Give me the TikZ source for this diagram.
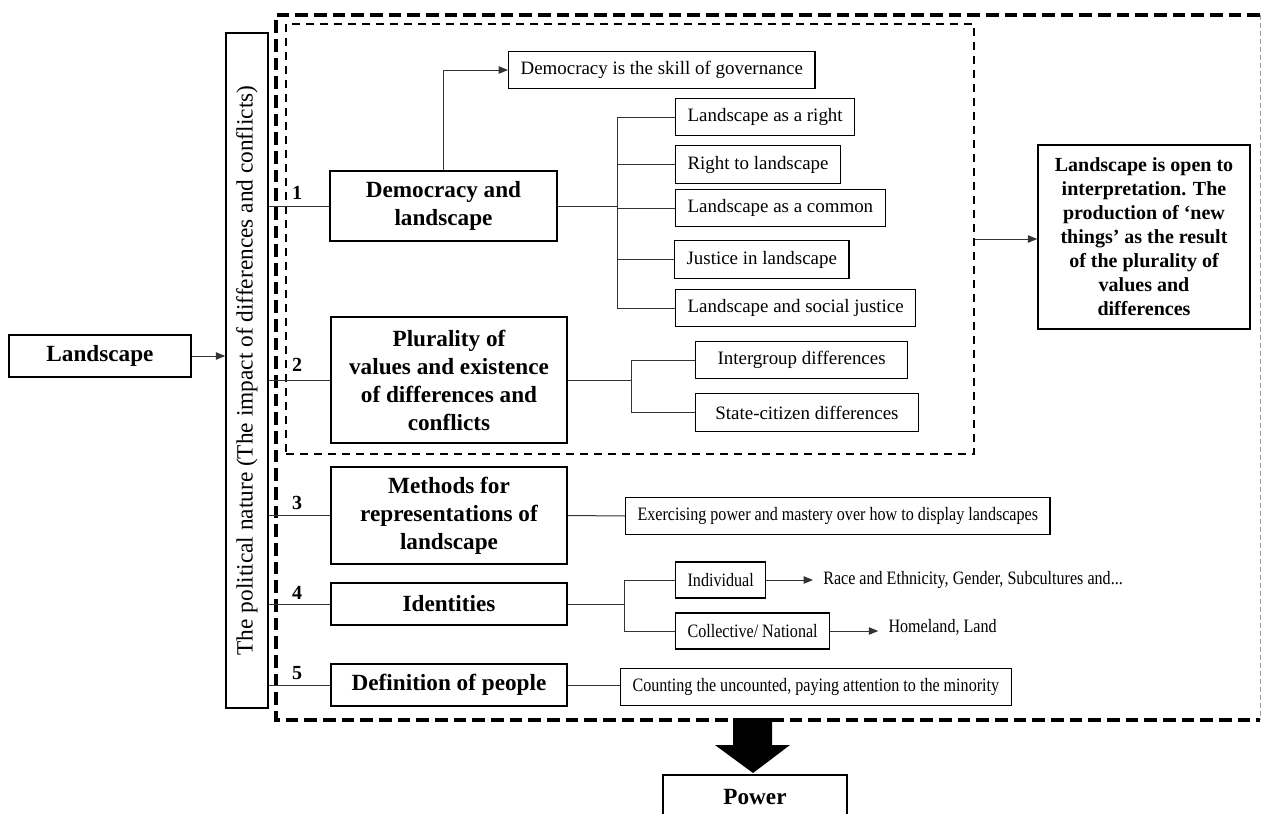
\documentclass[tikz,border=0pt]{standalone}
\usepackage{fontspec}
\setmainfont{Liberation Serif}
\newfontfamily\narrowserif[FakeStretch=0.85]{Liberation Serif}
\usetikzlibrary{arrows.meta,positioning}

\begin{document}
\begin{tikzpicture}[x=0.75pt,y=-0.75pt,
    main/.style={draw,line width=1.6pt,align=center,inner sep=2pt,font=\fontsize{17.4}{21}\selectfont\bfseries},
    leaf/.style={draw,line width=0.9pt,anchor=west,inner xsep=9pt,minimum height=28pt,font=\fontsize{14.2}{17}\selectfont},
    sleaf/.style={leaf,font=\narrowserif\fontsize{14.2}{17}\selectfont},
    plain/.style={inner xsep=7.5pt,font=\narrowserif\fontsize{14.2}{17}\selectfont},
    num/.style={font=\fontsize{15}{18}\selectfont\bfseries},
    link/.style={line width=0.75pt,draw=black!80},
    arr/.style={link,-{Triangle[length=7pt,width=5.5pt]}},
    bigdash/.style={line width=3pt,dash pattern=on 9.5pt off 4.5pt},
    smalldash/.style={line width=1.4pt,dash pattern=on 6pt off 4.5pt}]
    \useasboundingbox (0,0) rectangle (1261,814);
    \node[inner sep=0pt,outer sep=0pt,minimum width=738pt,minimum height=528.75pt] (nat) at (768,367.5) {};
    \node[draw,smalldash,inner sep=0pt,minimum width=516pt,minimum height=322.5pt] (grp) at (630,239) {};
    \node[main,minimum width=137pt,minimum height=31pt] (land) at (100,356) {Landscape};
    \node[draw,line width=1.1pt,inner sep=0pt,minimum width=31.5pt,minimum height=506pt,font=\fontsize{17.5}{20}\selectfont] (pol) at (247,370.5) {\rotatebox{90}{The political nature (The impact of differences and conflicts)}};
    \node[main,minimum width=170pt,minimum height=52pt] (b1) at (443.5,206) {Democracy and\\landscape};
    \node[main,minimum width=177pt,minimum height=94.5pt] (b2) at (449,380) {Plurality of\\values and existence\\of differences and\\conflicts};
    \node[main,minimum width=177pt,minimum height=73pt] (b3) at (449,515.5) {Methods for\\representations of\\landscape};
    \node[main,minimum width=177pt,minimum height=31.5pt] (b4) at (449,604) {Identities};
    \node[main,minimum width=177pt,minimum height=31.5pt] (b5) at (449,685) {Definition of people};
    \node[num] (n1) at (297,193) {1};
    \node[num] (n2) at (297,365) {2};
    \node[num] (n3) at (297,503) {3};
    \node[num] (n4) at (297,593) {4};
    \node[num] (n5) at (297,673) {5};
    \node[leaf] (gov) at (508,70) {Democracy is the skill of governance};
    \node[leaf] (r1) at (675,117) {Landscape as a right};
    \node[leaf] (r2) at (675,164.5) {Right to landscape};
    \node[leaf] (r3) at (675,208) {Landscape as a common};
    \node[leaf] (r4) at (674,259.5) {Justice in landscape};
    \node[leaf] (r5) at (675,308) {Landscape and social justice};
    \node[leaf,minimum width=159pt] (i1) at (695,360) {Intergroup differences};
    \node[leaf,minimum width=167pt] (i2) at (695,412.5) {State-citizen differences};
    \node[sleaf] (ex) at (625,516) {Exercising power and mastery over how to display landscapes};
    \node[sleaf,minimum height=27pt] (ind) at (675,580) {Individual};
    \node[sleaf,minimum height=27pt] (coll) at (675,631) {Collective/ National};
    \node[sleaf] (cnt) at (620,687) {Counting the uncounted, paying attention to the minority};
    \node[plain,anchor=west,right=35pt of ind] (race) {Race and Ethnicity, Gender, Subcultures and...};
    \node[plain,anchor=west,right=36pt of coll,yshift=3pt] (home) {Homeland, Land};
    \node[draw,line width=1.1pt,align=center,minimum width=159pt,minimum height=138pt,font=\fontsize{15}{18}\selectfont\bfseries] (res) at (1144,237) {Landscape is open to\\interpretation. The\\production of ‘new\\things’ as the result\\of the plurality of\\values and\\differences};
    \node[main,minimum width=138pt,minimum height=34pt] (pwr) at (755,797.5) {Power};
    \coordinate (t1) at (617,206);
    \coordinate (t2) at (631,380);
    \coordinate (t4) at (624,604);
    \draw[bigdash] (nat.north east) -- (nat.north west) -- (nat.south west) -- (nat.south east);
    \draw[black!40,line width=0.6pt,dash pattern=on 4pt off 2pt] (nat.north east) -- (nat.south east);
    \draw[arr] (land.east) -- (land.east -| pol.west);
    \draw[link] (pol.east |- b1.west) -- (b1.west);
    \draw[link] (pol.east |- b2.west) -- (b2.west);
    \draw[link] (pol.east |- b3.west) -- (b3.west);
    \draw[link] (pol.east |- b4.west) -- (b4.west);
    \draw[link] (pol.east |- b5.west) -- (b5.west);
    \draw[arr] (b1.north) |- (gov.west);
    \draw[link] (b1.east) -- (t1);
    \draw[link] (t1 |- r1.west) -- (t1 |- r5.west);
    \draw[link] (t1 |- r1.west) -- (r1.west);
    \draw[link] (t1 |- r2.west) -- (r2.west);
    \draw[link] (t1 |- r3.west) -- (r3.west);
    \draw[link] (t1 |- r4.west) -- (r4.west);
    \draw[link] (t1 |- r5.west) -- (r5.west);
    \draw[link] (b2.east) -- (t2);
    \draw[link] (t2 |- i1.west) -- (t2 |- i2.west);
    \draw[link] (t2 |- i1.west) -- (i1.west);
    \draw[link] (t2 |- i2.west) -- (i2.west);
    \draw[link] (b3.east) -- (ex.west);
    \draw[link] (b4.east) -- (t4);
    \draw[link] (t4 |- ind.west) -- (t4 |- coll.west);
    \draw[link] (t4 |- ind.west) -- (ind.west);
    \draw[link] (t4 |- coll.west) -- (coll.west);
    \draw[arr] (ind.east) -- (ind.east -| race.west);
    \draw[arr] (coll.east) -- (coll.east -| home.west);
    \draw[link] (b5.east) -- (b5.east -| cnt.west);
    \draw[arr] (grp.east) -- (grp.east -| res.west);
    \fill (733,718) -- (733,745) -- (715,745) -- (753,773) -- (790,745) -- (772,745) -- (772,718) -- cycle;
\end{tikzpicture}
\end{document}
